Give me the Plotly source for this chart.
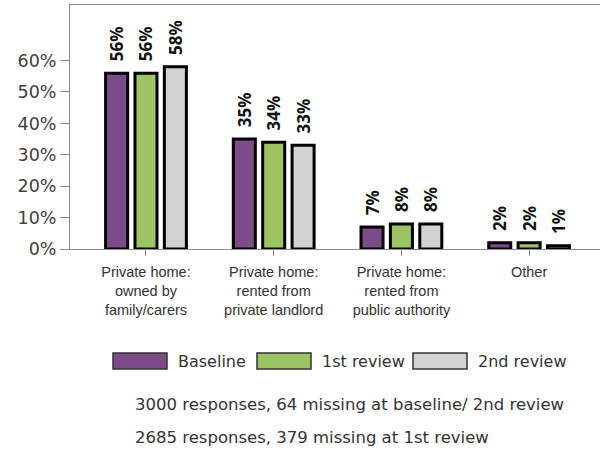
import plotly.graph_objects as go

categories = [
    "Private home:<br>owned by<br>family/carers",
    "Private home:<br>rented from<br>private landlord",
    "Private home:<br>rented from<br>public authority",
    "Other",
]
series_names = ["Baseline", "1st review", "2nd review"]
baseline = [56, 35, 7, 2]
review1 = [56, 34, 8, 2]
review2 = [58, 33, 8, 1]
y_ticks = [0, 10, 20, 30, 40, 50, 60]
y_tick_labels = ["0%", "10%", "20%", "30%", "40%", "50%", "60%"]
footnotes = [
    "3000 responses, 64 missing at baseline/ 2nd review",
    "2685 responses, 379 missing at 1st review",
]

colors = ["#7E4B8A", "#9CC463", "#D1D2D4"]

W, H = 600, 454
L, R, T, B = 70, 0, 5, 205
PW = W - L - R
PH = H - T - B


def px_x(x):
    return (x - L) / PW


def px_y(y):
    return (H - B - y) / PH


fig = go.Figure()
for name, vals, col in zip(series_names, [baseline, review1, review2], colors):
    fig.add_trace(go.Bar(
        x=list(range(len(categories))),
        y=vals,
        name=name,
        marker=dict(color=col, line=dict(color="#000000", width=3)),
        text=[f"\u00a0\u00a0{v}%" for v in vals],
        textposition="outside",
        textangle=-90,
        constraintext="none",
        cliponaxis=False,
        textfont=dict(family="Open Sans", size=17, color="#111111", weight="bold"),
        showlegend=False,
        hoverinfo="skip",
    ))

fig.update_layout(
    width=W, height=H,
    margin=dict(l=L, r=R, t=T, b=B),
    paper_bgcolor="white", plot_bgcolor="white",
    barmode="group", bargap=0.31, bargroupgap=0.25,
    showlegend=False,
)
fig.update_xaxes(
    range=[-0.595, 3.555],
    tickmode="array", tickvals=list(range(len(categories))), ticktext=categories,
    showline=True, linecolor="#8c8c8c", linewidth=1, mirror=True,
    ticks="outside", ticklen=6, tickcolor="#8c8c8c",
    ticklabelstandoff=4,
    tickfont=dict(family="Liberation Sans", size=14.5, color="#333333"),
    showgrid=False, zeroline=False,
)
fig.update_yaxes(
    range=[0, 77.7],
    tickmode="array", tickvals=y_ticks, ticktext=y_tick_labels,
    showline=True, linecolor="#8c8c8c", linewidth=1,
    ticks="outside", ticklen=9, tickcolor="#8c8c8c",
    tickfont=dict(family="DejaVu Sans", size=17.5, color="#404040"),
    showgrid=False, zeroline=False,
)

# legend drawn as shapes + annotations
swatches = [(113, 167, 176), (257, 311, 320), (413, 467, 476)]
for (x0, x1, tx), name, col in zip(swatches, series_names, colors):
    fig.add_shape(type="rect", xref="paper", yref="paper",
                  x0=px_x(x0), x1=px_x(x1), y0=px_y(353), y1=px_y(369),
                  fillcolor=col, line=dict(color="#333333", width=1.5))
    fig.add_annotation(xref="paper", yref="paper", x=px_x(tx), y=px_y(361),
                       text=name, showarrow=False, xanchor="left", yanchor="middle",
                       font=dict(family="DejaVu Sans", size=16, color="#333333"))

for txt, yy in zip(footnotes, [404, 437]):
    fig.add_annotation(xref="paper", yref="paper", x=px_x(133), y=px_y(yy),
                       text=txt, showarrow=False, xanchor="left", yanchor="middle",
                       font=dict(family="DejaVu Sans", size=16.5, color="#333333"))

fig.write_html(
    "out.html",
    config={"displayModeBar": False},
    post_script="document.body.style.margin='0px';",
)
